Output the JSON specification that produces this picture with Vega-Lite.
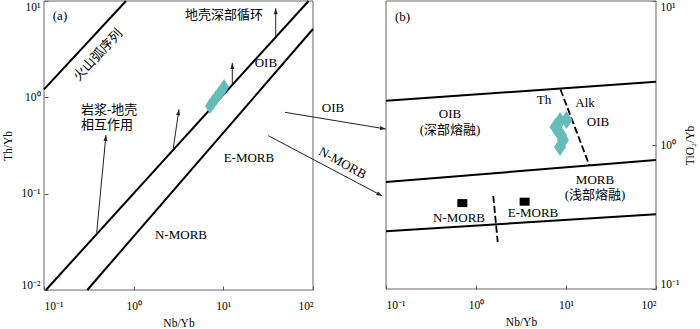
{
  "$schema": "https://vega.github.io/schema/vega-lite/v6.json",
  "width": 700,
  "height": 329,
  "autosize": {"type": "none"},
  "padding": 0,
  "config": {
    "view": {"stroke": null},
    "font": "Liberation Serif",
    "axis": {
      "grid": false,
      "domain": false,
      "tickSize": -4,
      "tickColor": "#555",
      "tickWidth": 1,
      "labelFont": "Liberation Serif",
      "labelFontSize": 11.5,
      "labelColor": "#000",
      "labelFlush": true,
      "labelPadding": 8,
      "titleFont": "Liberation Serif",
      "titleFontSize": 11.5,
      "titleFontWeight": "normal",
      "titleColor": "#000",
      "labelExpr": "datum.value < 0.05 ? '10⁻²' : datum.value < 0.5 ? '10⁻¹' : datum.value < 5 ? '10⁰' : datum.value < 50 ? '10¹' : '10²'"
    },
    "text": {"font": "Liberation Serif, Noto Sans CJK SC", "fontSize": 13, "color": "#000", "baseline": "middle"}
  },
  "datasets": {
    "a_frame": [{"x": 0.1, "x2": 100, "y": 0.01, "y2": 10}],
    "b_frame": [{"x": 0.1, "x2": 100, "y": 0.1, "y2": 10}],
    "a_lines": [
      {"id": "arc", "x": 0.1, "y": 1.21}, {"id": "arc", "x": 0.821, "y": 10},
      {"id": "up", "x": 0.105, "y": 0.01}, {"id": "up", "x": 89.3, "y": 10},
      {"id": "low", "x": 0.304, "y": 0.01}, {"id": "low", "x": 100, "y": 5.12}
    ],
    "a_arrows": [
      {"id": "a1", "x": 2.77, "y": 0.298, "x2": 3.2, "y2": 0.751},
      {"id": "a2", "x": 0.387, "y": 0.0394, "x2": 0.491, "y2": 0.406},
      {"id": "a3", "x": 12.59, "y": 1.327, "x2": 12.59, "y2": 2.272},
      {"id": "a4", "x": 38.4, "y": 4.23, "x2": 38.4, "y2": 8.4},
      {"id": "oib", "x": 48.7, "y": 0.699, "x2": 651, "y2": 0.469},
      {"id": "nmorb", "x": 31.7, "y": 0.4, "x2": 593, "y2": 0.0946}
    ],
    "a_tips": [
      {"id": "a1", "x": 3.2, "y": 0.751},
      {"id": "a2", "x": 0.491, "y": 0.406},
      {"id": "a3", "x": 12.59, "y": 2.272},
      {"id": "a4", "x": 38.4, "y": 8.4},
      {"id": "oib", "x": 651, "y": 0.469},
      {"id": "nmorb", "x": 593, "y": 0.0946}
    ],
    "a_samples": [
      {"x": 7.1, "y": 0.813}, {"x": 7.67, "y": 0.894}, {"x": 8.28, "y": 0.984},
      {"x": 8.95, "y": 1.083}, {"x": 9.67, "y": 1.19}, {"x": 10.2, "y": 1.28}
    ],
    "a_text": [
      {"label": "(a)", "x": 0.1508, "y": 7.03},
      {"label": "地壳深部循环", "x": 10.16, "y": 7.16},
      {"label": "OIB", "x": 29.8, "y": 2.25},
      {"label": "E-MORB", "x": 19.3, "y": 0.2344},
      {"label": "N-MORB", "x": 3.37, "y": 0.0372},
      {"label": "OIB", "x": 167, "y": 0.78}
    ],
    "a_text_left": [
      {"label": "岩浆-地壳", "x": 0.2588, "y": 0.739},
      {"label": "相互作用", "x": 0.2588, "y": 0.516}
    ],
    "a_text_arc": [{"label": "火山弧序列", "x": 0.4, "y": 2.75}],
    "a_text_nm": [{"label": "N-MORB", "x": 213, "y": 0.208}],
    "b_lines": [
      {"id": "u", "x": 0.1, "y": 2.03}, {"id": "u", "x": 100, "y": 2.75},
      {"id": "m", "x": 0.1, "y": 0.553}, {"id": "m", "x": 100, "y": 0.787},
      {"id": "l", "x": 0.1, "y": 0.252}, {"id": "l", "x": 100, "y": 0.33}
    ],
    "b_dash": [
      {"id": "d1", "x": 8.69, "y": 2.43}, {"id": "d1", "x": 18.2, "y": 0.721},
      {"id": "d2", "x": 1.556, "y": 0.443}, {"id": "d2", "x": 1.742, "y": 0.212}
    ],
    "b_samples": [
      {"x": 7.64, "y": 1.333}, {"x": 10.13, "y": 1.49}, {"x": 8.58, "y": 1.468},
      {"x": 8.8, "y": 1.173}, {"x": 8.58, "y": 0.968}, {"x": 9.26, "y": 1.083}
    ],
    "b_ref": [
      {"label": "N-MORB", "x": 0.705, "y": 0.395},
      {"label": "E-MORB", "x": 3.47, "y": 0.404}
    ],
    "b_text": [
      {"label": "(b)", "x": 0.1526, "y": 7.78},
      {"label": "OIB", "x": 0.514, "y": 1.642},
      {"label": "(深部熔融)", "x": 0.514, "y": 1.27},
      {"label": "Th", "x": 5.7, "y": 2.054},
      {"label": "Alk", "x": 16.3, "y": 1.948},
      {"label": "OIB", "x": 22.7, "y": 1.444},
      {"label": "MORB", "x": 21.0, "y": 0.571},
      {"label": "(浅部熔融)", "x": 21.0, "y": 0.45},
      {"label": "N-MORB", "x": 0.647, "y": 0.31},
      {"label": "E-MORB", "x": 4.3, "y": 0.336}
    ]
  },
  "layer": [
    {
      "encoding": {
        "x": {
          "field": "x", "type": "quantitative",
          "scale": {"type": "log", "domain": [0.1, 100], "range": [44, 313], "nice": false},
          "axis": {"orient": "bottom", "offset": -39, "values": [0.1, 1, 10, 100], "title": "Nb/Yb", "labelPadding": 14, "titlePadding": 6}
        },
        "y": {
          "field": "y", "type": "quantitative",
          "scale": {"type": "log", "domain": [0.01, 10], "range": [290, 1], "nice": false},
          "axis": {"orient": "left", "offset": -44, "values": [0.01, 0.1, 1, 10], "title": "Th/Yb", "titlePadding": 8}
        }
      },
      "layer": [
        {
          "data": {"name": "a_frame"},
          "mark": {"type": "rect", "fillOpacity": 0, "stroke": "#666", "strokeWidth": 1},
          "encoding": {"x2": {"field": "x2"}, "y2": {"field": "y2"}}
        },
        {
          "data": {"name": "a_lines"},
          "mark": {"type": "line", "color": "#000", "strokeWidth": 2},
          "encoding": {"detail": {"field": "id"}}
        },
        {
          "data": {"name": "a_arrows"},
          "mark": {"type": "rule", "color": "#222", "strokeWidth": 1},
          "encoding": {"x2": {"field": "x2"}, "y2": {"field": "y2"}}
        },
        {
          "data": {"name": "a_tips"},
          "transform": [{"filter": "datum.id == 'a3' || datum.id == 'a4'"}],
          "mark": {"type": "point", "shape": "M0,0L0.67,2L-0.67,2Z", "filled": true, "color": "#222", "opacity": 1, "size": 36, "angle": 0}
        },
        {
          "data": {"name": "a_tips"},
          "transform": [{"filter": "datum.id == 'a1'"}],
          "mark": {"type": "point", "shape": "M0,0L0.67,2L-0.67,2Z", "filled": true, "color": "#222", "opacity": 1, "size": 36, "angle": 8}
        },
        {
          "data": {"name": "a_tips"},
          "transform": [{"filter": "datum.id == 'a2'"}],
          "mark": {"type": "point", "shape": "M0,0L0.67,2L-0.67,2Z", "filled": true, "color": "#222", "opacity": 1, "size": 36, "angle": 5}
        },
        {
          "data": {"name": "a_tips"},
          "transform": [{"filter": "datum.id == 'oib'"}],
          "mark": {"type": "point", "shape": "M0,0L0.67,2L-0.67,2Z", "filled": true, "color": "#222", "opacity": 1, "size": 36, "angle": 99}
        },
        {
          "data": {"name": "a_tips"},
          "transform": [{"filter": "datum.id == 'nmorb'"}],
          "mark": {"type": "point", "shape": "M0,0L0.67,2L-0.67,2Z", "filled": true, "color": "#222", "opacity": 1, "size": 36, "angle": 118}
        },
        {
          "data": {"name": "a_samples"},
          "mark": {"type": "point", "shape": "M0,-1L0.625,0L0,1L-0.625,0Z", "filled": true, "color": "#66bdb8", "opacity": 1, "size": 256}
        },
        {
          "data": {"name": "a_text"},
          "mark": {"type": "text", "align": "center"},
          "encoding": {"text": {"field": "label"}}
        },
        {
          "data": {"name": "a_text_left"},
          "mark": {"type": "text", "align": "left"},
          "encoding": {"text": {"field": "label"}}
        },
        {
          "data": {"name": "a_text_arc"},
          "mark": {"type": "text", "align": "center", "angle": 313},
          "encoding": {"text": {"field": "label"}}
        },
        {
          "data": {"name": "a_text_nm"},
          "mark": {"type": "text", "align": "center", "angle": 29},
          "encoding": {"text": {"field": "label"}}
        }
      ]
    },
    {
      "encoding": {
        "x": {
          "field": "x", "type": "quantitative",
          "scale": {"type": "log", "domain": [0.1, 100], "range": [386, 656], "nice": false},
          "axis": {"orient": "bottom", "offset": -40, "values": [0.1, 1, 10, 100], "title": "Nb/Yb", "labelPadding": 14, "titlePadding": 6}
        },
        "y": {
          "field": "y", "type": "quantitative",
          "scale": {"type": "log", "domain": [0.1, 10], "range": [289, 1], "nice": false},
          "axis": {"orient": "right", "offset": -44, "values": [0.1, 1, 10], "title": "TiO₂/Yb", "titleAngle": 270, "titlePadding": 17}
        }
      },
      "layer": [
        {
          "data": {"name": "b_frame"},
          "mark": {"type": "rect", "fillOpacity": 0, "stroke": "#666", "strokeWidth": 1},
          "encoding": {"x2": {"field": "x2"}, "y2": {"field": "y2"}}
        },
        {
          "data": {"name": "b_lines"},
          "mark": {"type": "line", "color": "#000", "strokeWidth": 2},
          "encoding": {"detail": {"field": "id"}}
        },
        {
          "data": {"name": "b_dash"},
          "mark": {"type": "line", "color": "#000", "strokeWidth": 1.8, "strokeDash": [7, 3]},
          "encoding": {"detail": {"field": "id"}}
        },
        {
          "data": {"name": "b_samples"},
          "mark": {"type": "point", "shape": "M0,-1L0.667,0L0,1L-0.667,0Z", "filled": true, "color": "#66bdb8", "opacity": 1, "size": 324}
        },
        {
          "data": {"name": "b_ref"},
          "mark": {"type": "point", "shape": "M-1,-0.8L1,-0.8L1,0.8L-1,0.8Z", "filled": true, "color": "#000", "opacity": 1, "size": 100}
        },
        {
          "data": {"name": "b_text"},
          "mark": {"type": "text", "align": "center"},
          "encoding": {"text": {"field": "label"}}
        }
      ]
    }
  ],
  "resolve": {
    "scale": {"x": "independent", "y": "independent"},
    "axis": {"x": "independent", "y": "independent"}
  }
}
